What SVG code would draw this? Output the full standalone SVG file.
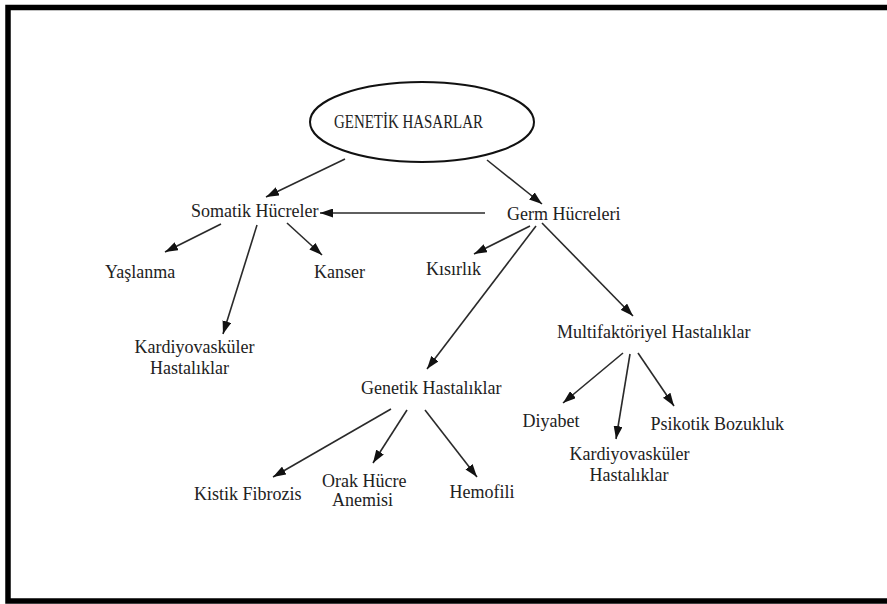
<svg xmlns="http://www.w3.org/2000/svg" width="887" height="604" viewBox="0 0 887 604">
<style>
.t text{font-size:18px;fill:#222}
.c line{stroke:#2a2a2a;stroke-width:1.6;marker-end:url(#ah)}
</style>
<defs>
<marker id="ah" viewBox="0 0 13 9" refX="13" refY="4.5" markerWidth="13" markerHeight="9" markerUnits="userSpaceOnUse" orient="auto">
<path d="M0,0 L13,4.5 L0,9 z" fill="#111"/>
</marker>
</defs>
<rect x="0" y="0" width="887" height="604" fill="#fff"/>
<rect x="8" y="7.5" width="900" height="593.5" fill="none" stroke="#000" stroke-width="5.5"/>
<g class="t" font-family="Liberation Serif, Times New Roman, serif">
<g id="root">
<ellipse cx="422" cy="122" rx="112" ry="40" fill="none" stroke="#111" stroke-width="2"/>
<text x="334" y="127.5" font-size="17" textLength="149" lengthAdjust="spacingAndGlyphs">GENETİK HASARLAR</text>
</g>
<g id="somatik"><text x="191" y="217">Somatik Hücreler</text></g>
<g id="germ"><text x="507" y="219.5">Germ Hücreleri</text></g>
<g id="yaslanma"><text x="105" y="278">Yaşlanma</text></g>
<g id="kanser"><text x="314" y="278">Kanser</text></g>
<g id="kisirlik"><text x="426" y="275">Kısırlık</text></g>
<g id="kardiyo1"><text x="134.5" y="352.5">Kardiyovasküler</text><text x="150" y="373.5">Hastalıklar</text></g>
<g id="genetik"><text x="361" y="394">Genetik Hastalıklar</text></g>
<g id="multi"><text x="557" y="338">Multifaktöriyel Hastalıklar</text></g>
<g id="diyabet"><text x="522.5" y="427">Diyabet</text></g>
<g id="psikotik"><text x="650.5" y="429.5">Psikotik Bozukluk</text></g>
<g id="kardiyo2"><text x="569.5" y="460">Kardiyovasküler</text><text x="589.5" y="480.5">Hastalıklar</text></g>
<g id="kistik"><text x="194" y="500">Kistik Fibrozis</text></g>
<g id="orak"><text x="322" y="487">Orak Hücre</text><text x="332" y="506">Anemisi</text></g>
<g id="hemofili"><text x="449.5" y="497.5">Hemofili</text></g>
</g>
<g id="connectors" class="c">
<line x1="345" y1="159" x2="266" y2="197"/>
<line x1="487" y1="160" x2="542" y2="204"/>
<line x1="485" y1="213" x2="320" y2="213"/>
<line x1="221" y1="224" x2="165" y2="252"/>
<line x1="287" y1="223" x2="322" y2="255"/>
<line x1="257" y1="225" x2="223" y2="334"/>
<line x1="530" y1="226" x2="474" y2="254"/>
<line x1="536" y1="226" x2="427" y2="369"/>
<line x1="542" y1="223" x2="633" y2="316"/>
<line x1="623" y1="353" x2="563" y2="403"/>
<line x1="630" y1="354" x2="616" y2="439"/>
<line x1="638" y1="353" x2="674" y2="406"/>
<line x1="391" y1="409" x2="273" y2="477"/>
<line x1="407" y1="410" x2="373" y2="463"/>
<line x1="425" y1="410" x2="477" y2="477"/>
</g>
</svg>
